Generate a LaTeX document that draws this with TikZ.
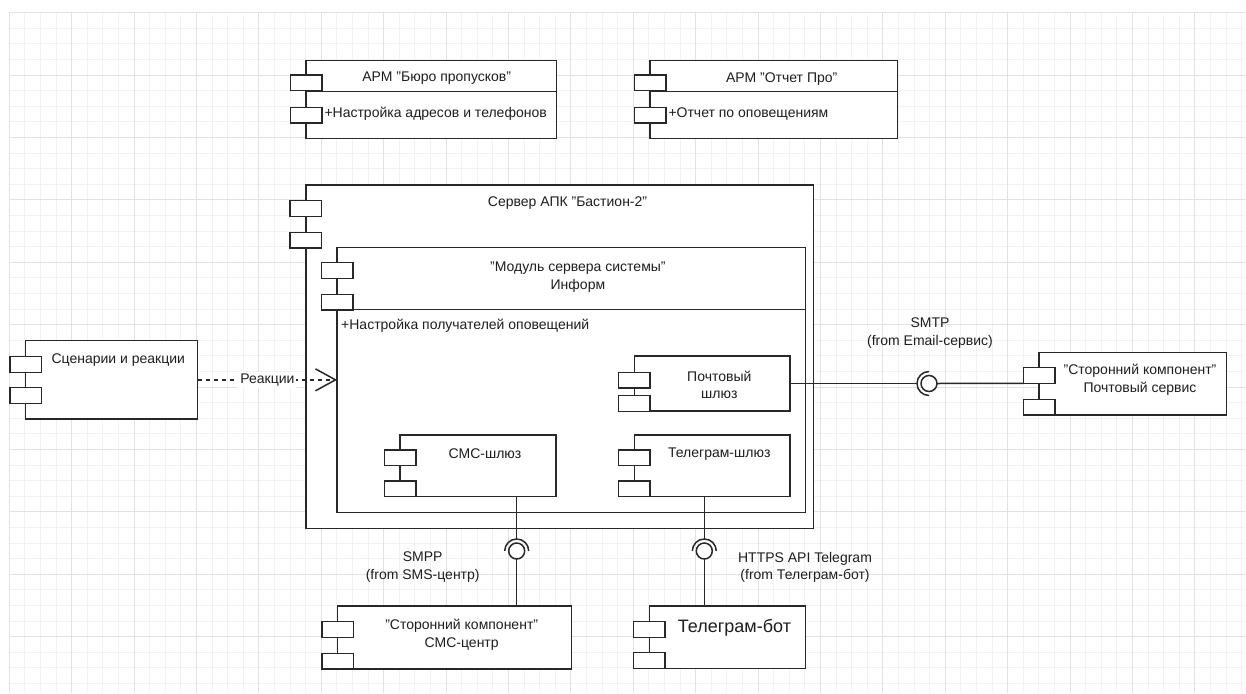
\documentclass[tikz,border=0pt]{standalone}
\usepackage{fontspec}
\setmainfont{Liberation Sans}
\usetikzlibrary{arrows.meta}
\definecolor{gridminor}{RGB}{242,242,242}
\definecolor{gridmajor}{RGB}{226,226,226}
\definecolor{ink}{RGB}{30,30,30}
\definecolor{stroke}{RGB}{40,40,40}
\tikzset{
  box/.style={draw=stroke, fill=white, line width=1.5pt, inner sep=0pt, outer sep=0pt},
  portbox/.style={draw=stroke, fill=white, line width=1.5pt, inner sep=0pt, outer sep=0pt, minimum width=31.5pt, minimum height=15.6pt},
  lbl/.style={font=\fontsize{14}{17.5}\selectfont, text=ink, inner sep=0pt, align=center},
  conn/.style={draw=stroke, line width=1.5pt},
  ball/.style={circle, draw=stroke, fill=white, line width=1.5pt, minimum size=16pt, inner sep=0pt, outer sep=0pt},
}
\newcommand\compbox[7]{%
  \node[box, minimum width={#4-#2}, minimum height={#5-#3}] (#1) at ({(#2+#4)/2},{(#3+#5)/2}) {};
  \node[portbox] (#1p1) at (#2,{#6+7.8}) {};
  \node[portbox] (#1p2) at (#2,{#7+7.8}) {};
}
\begin{document}
\begin{tikzpicture}[x=1pt,y=-1pt]
\useasboundingbox (0,0) rectangle (1246,693);
\fill[white] (0,0) rectangle (1246,693);
% grid
\foreach \i in {0,...,79} \draw[gridminor, line width=0.9pt] ({9.3+15.6*\i},12.6) -- ({9.3+15.6*\i},693);
\foreach \j in {0,...,43} \draw[gridminor, line width=0.9pt] (9.3,{12.6+15.6*\j}) -- (1246,{12.6+15.6*\j});
\foreach \i in {0,...,19} \draw[gridmajor, line width=0.9pt] ({9.3+62.4*\i},12.6) -- ({9.3+62.4*\i},693);
\foreach \j in {0,...,10} \draw[gridmajor, line width=0.9pt] (9.3,{12.6+62.4*\j}) -- (1246,{12.6+62.4*\j});

% top components
\compbox{arm1}{306}{60.7}{556.7}{138.3}{75}{107.3}
\draw[conn] (306,91.7) -- (556.7,91.7);
\node[lbl] (arm1t) at (436.7,78.3) {АРМ "Бюро пропусков"};
\node[lbl, anchor=west] (arm1a) at (324.3,114) {+Настройка адресов и телефонов};

\compbox{arm2}{650}{60.7}{897.7}{138.3}{75}{107.3}
\draw[conn] (650,91.7) -- (897.7,91.7);
\node[lbl] (arm2t) at (781.7,78.7) {АРМ "Отчет Про"};
\node[lbl, anchor=west] (arm2a) at (668.3,114) {+Отчет по оповещениям};

% server
\compbox{server}{305.8}{185}{813.3}{528.3}{200.7}{232.3}
\node[lbl] (servert) at (567.5,203.3) {Сервер АПК "Бастион-2"};

% module
\compbox{module}{337}{247.7}{805.7}{512.7}{262.7}{294.3}
\draw[conn] (337,309.3) -- (805.7,309.3);
\node[lbl] (modulet) at (577.9,277.2) {"Модуль сервера системы"\\Информ};
\node[lbl, anchor=west] (modulea) at (341,325.7) {+Настройка получателей оповещений};

% inner gateways
\compbox{mailgw}{634.3}{356}{790}{411}{372.3}{395.7}
\node[lbl] (mailgwt) at (719.3,385) {Почтовый\\шлюз};
\compbox{smsgw}{400}{435}{556}{496.7}{450}{481.1}
\node[lbl] (smsgwt) at (485,454) {СМС-шлюз};
\compbox{tggw}{634.3}{435}{790}{496.7}{450}{481.1}
\node[lbl] (tggwt) at (719.3,454) {Телеграм-шлюз};

% scenarios
\compbox{scen}{25.7}{340.7}{197.7}{419}{356.7}{387.7}
\node[lbl] (scent) at (118.3,360) {Сценарии и реакции};

% external components
\compbox{mailsvc}{1039}{352.7}{1226.7}{415}{367.7}{399.4}
\node[lbl] (mailsvct) at (1140,380) {"Сторонний компонент"\\Почтовый сервис};
\compbox{smsc}{337.7}{606}{571.7}{669}{621.7}{653.4}
\node[lbl] (smsct) at (461.7,634.5) {"Сторонний компонент"\\СМС-центр};
\compbox{tgbot}{649.3}{606}{805.7}{668.3}{621.7}{652.7}
\node[lbl, font=\fontsize{18}{21}\selectfont] (tgbott) at (734.5,627.7) {Телеграм-бот};

% dashed dependency
\draw[conn, dash pattern=on 4pt off 4pt, -{Straight Barb[length=20pt,width=22pt]}] (scen.east) -- (scen.east -| module.west)
  node[lbl, fill=white, inner sep=2pt, midway] (reakt) {Реакции};

% SMTP interface
\node[ball] (ballM) at (929,383.5) {};
\coordinate (sockM) at (917,383.5);
\draw[conn] (mailgw.east) -- (sockM);
\draw[conn] (929,395.5) arc[start angle=90, end angle=270, radius=12];
\draw[conn] (ballM.east) -- (mailsvcp1.south west);
\node[lbl] (smtpt) at (930,333) {SMTP\\(from Email-сервис)};

% SMPP interface
\node[ball] (ballS) at (516.7,551) {};
\coordinate (sockS) at (516.7,539);
\draw[conn] (smsgw.south -| sockS) -- (sockS);
\draw[conn] (504.7,551) arc[start angle=180, end angle=360, radius=12];
\draw[conn] (ballS.south) -- (ballS.south |- smsc.north);
\node[lbl] (smppt) at (422.7,567) {SMPP\\(from SMS-центр)};

% Telegram interface
\node[ball] (ballT) at (704.3,551) {};
\coordinate (sockT) at (704.3,539);
\draw[conn] (tggw.south -| sockT) -- (sockT);
\draw[conn] (692.3,551) arc[start angle=180, end angle=360, radius=12];
\draw[conn] (ballT.south) -- (ballT.south |- tgbot.north);
\node[lbl] (httpst) at (805,567.5) {HTTPS API Telegram\\(from Телеграм-бот)};
\end{tikzpicture}
\end{document}
